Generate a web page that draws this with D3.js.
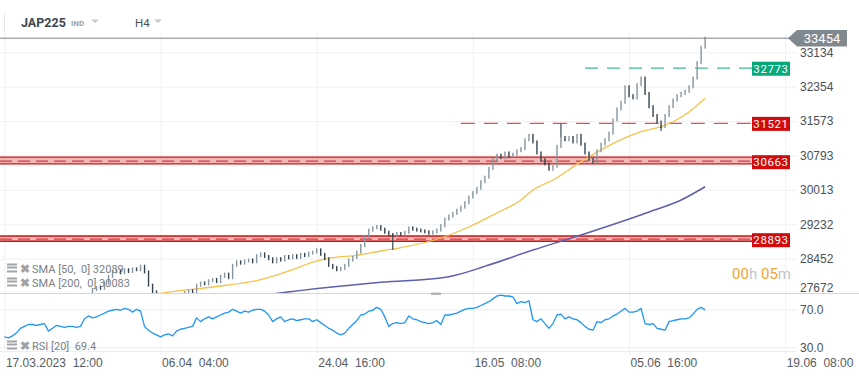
<!DOCTYPE html>
<html>
<head>
<meta charset="utf-8">
<script src="https://cdn.jsdelivr.net/npm/d3@7"></script>
<style>
  body { margin: 0; background: #fff; }
  svg { display: block; font-family: Roboto, "Noto Sans", sans-serif; }
  .tick text { white-space: pre; }
</style>
</head>
<body>
<div id="chart"></div>
<script>
// x axis: bar index of each tick and its label
const xTickIdx = [0, 39, 78, 117, 156, 195];
const xTickLabels = ["17.03.2023  12:00", "06.04  04:00", "24.04  16:00", "16.05  08:00", "05.06  16:00", "19.06  08:00"];
const priceTicks = [33134, 32354, 31573, 30793, 30013, 29232, 28452, 27672];
const rsiTicks = [70, 30];

// H4 closes, one per bar
const barClose = [
  27150,27100,27180,27250,27300,27280,27350,27400,27380,27420,27400,27350,27420,27450,27430,27470,27460,27480,27500,27480,27550,
  27620,27750,27800,27780,27900,28050,28150,28180,28130,28200,28160,28220,28200,28280,28150,27850,27700,27550,27450,27400,
  27450,27500,27560,27600,27680,27720,27700,27850,27900,27880,27950,27980,27930,28050,28100,28020,28300,28380,28350,28400,
  28420,28380,28520,28560,28500,28450,28380,28450,28420,28500,28470,28520,28480,28550,28520,28580,28600,28650,28550,28450,
  28300,28250,28200,28230,28300,28420,28480,28600,28750,28950,29100,29150,29180,29120,29050,29000,28980,29020,29000,29050,
  29150,29120,29100,29080,29060,29030,29060,29100,29200,29350,29420,29480,29550,29620,29720,29850,29950,30050,30200,30300,
  30500,30700,30800,30750,30850,30780,30820,30900,30950,31150,31250,31100,30850,30700,30600,30480,30550,31000,31200,31150,
  31200,31100,31250,31050,30850,30700,30650,30900,31050,31150,31300,31600,31850,32000,32350,32150,32100,32400,32550,32200,
  31900,31700,31550,31450,31700,31900,32050,32150,32200,32250,32350,32550,32900,33250,33454
];
// long wicks
const spikeIdx = [97, 139, 164];
const spikePrice = [28650, 31521, 31350];

// RSI [20], one per bar
const rsiValues = [
  41,40,42,45,50,52,54,54,53,54,55,47,50,53,52,51,52,52,51,52,60,
  63,61,62,64,66,68,69,70,69,71,70,67,70,68,52,48,45,43,41,43,
  44,42,47,49,50,51,52,61,57,60,62,60,62,64,66,67,70,68,66,68,
  67,69,70,70,68,64,57,60,62,57,59,60,58,59,60,60,57,59,56,53,
  50,48,45,43,45,50,54,58,64,65,68,69,72,70,62,52,55,56,55,56,
  63,60,59,57,56,55,56,58,54,64,64,65,66,68,70,71,71,72,74,76,
  78,81,84,85,84,84,83,76,78,77,79,59,57,60,55,50,55,64,65,60,
  62,60,59,56,52,49,48,57,56,59,60,63,65,68,71,67,67,68,71,55,
  54,55,50,49,48,57,58,59,60,60,61,65,70,72,69.4
];

const sma50Idx = [36, 41, 52, 64, 72, 77, 82, 88, 94, 99, 109, 116, 123, 129, 132, 137, 144, 155, 159, 164, 171, 175];
const sma50Val = [27620, 27690, 27808, 27976, 28203, 28375, 28475, 28527, 28625, 28700, 28920, 29170, 29488, 29783, 30010, 30236, 30652, 31190, 31332, 31446, 31780, 32089];
const sma200Idx = [66, 80, 94, 111, 121, 132, 144, 161, 169, 175];
const sma200Val = [27640, 27790, 27915, 28043, 28307, 28647, 28988, 29510, 29782, 30083];

const lastPrice = 33454;
const targetLevel = 32773;
const targetStartIdx = 145;
const supportLevel = 31521;
const supportStartIdx = 114;
const zoneLevel = [30663, 28893];
const zoneTop = [30755, 28966];
const zoneBottom = [30603, 28846];

const legendNames = ["SMA [50,  0] 32089", "SMA [200,  0] 30083"];
const rsiLegend = "RSI [20]  69.4";

function drawChart() {
  const W = 859, H = 378;
  const axisX = 797;
  const paneTop = 30, paneBottom = 293;
  const rsiBottom = 351;
  const labelX = 752, labelW = 38;

  const svg = d3.select("#chart").append("svg")
    .attr("width", W)
    .attr("height", H);

  const x = d3.scaleLinear().domain([0, 195]).range([4.4, 785.2]);
  const y = d3.scaleLinear().domain([27672, 33134]).range([paneBottom, 52.3]);
  const yR = d3.scaleLinear().domain([30, 70]).range([347.3, 309.3]);

  // clip paths
  const defs = svg.append("defs");
  defs.append("clipPath").attr("id", "mainClip")
    .append("rect").attr("x", 0).attr("y", paneTop).attr("width", 785).attr("height", paneBottom - paneTop);
  defs.append("clipPath").attr("id", "rsiClip")
    .append("rect").attr("x", 0).attr("y", paneBottom + 1).attr("width", 785).attr("height", rsiBottom - paneBottom);

  // header
  svg.append("line").attr("x1", 4.5).attr("x2", 4.5).attr("y1", 12).attr("y2", 33)
    .attr("stroke", "#e6e8ea");
  svg.append("text").attr("x", 21).attr("y", 27)
    .attr("font-size", 12.5).attr("font-weight", "bold").attr("fill", "#3b4650").text("JAP225");
  svg.append("text").attr("x", 71).attr("y", 26)
    .attr("font-size", 8).attr("font-weight", "bold").attr("fill", "#9aa4ab").text("IND");
  svg.append("text").attr("x", 135).attr("y", 27)
    .attr("font-size", 11.5).attr("fill", "#4a545c").text("H4");
  [[91, 99], [154, 162]].forEach(function(p) {
    svg.append("path")
      .attr("d", "M" + p[0] + ",19.5 L" + p[1] + ",19.5 L" + ((p[0] + p[1]) / 2) + ",23 Z")
      .attr("fill", "#c4c9cd");
  });

  // x axis + vertical grid
  const xAxis = d3.axisBottom(x)
    .tickValues(xTickIdx)
    .tickFormat(function(d, i) { return xTickLabels[i]; })
    .tickSize(-322)
    .tickPadding(3);
  const gx = svg.append("g").attr("transform", "translate(0,355)").call(xAxis);
  gx.select(".domain").remove();
  gx.selectAll("line").attr("stroke", "#eef0f2");
  gx.selectAll("text")
    .attr("text-anchor", "start").attr("dx", 1)
    .attr("font-size", 12).attr("fill", "#555c63");

  // price axis + horizontal grid
  const yAxis = d3.axisRight(y)
    .tickValues(priceTicks)
    .tickFormat(d3.format("d"))
    .tickSize(-axisX)
    .tickPadding(3);
  const gy = svg.append("g").attr("transform", "translate(" + axisX + ",0)").call(yAxis);
  gy.select(".domain").remove();
  gy.selectAll("line").attr("stroke", "#eef0f2");
  gy.selectAll("text").attr("font-size", 12).attr("fill", "#4a5158");
  gy.selectAll(".tick").filter(function(d) { return d === 27672; })
    .select("text").attr("y", -5);

  // rsi axis
  const rAxis = d3.axisRight(yR)
    .tickValues(rsiTicks)
    .tickFormat(d3.format(".1f"))
    .tickSize(-axisX)
    .tickPadding(3);
  const gr = svg.append("g").attr("transform", "translate(" + axisX + ",0)").call(rAxis);
  gr.select(".domain").remove();
  gr.selectAll("line").attr("stroke", "#eceef0");
  gr.selectAll("text").attr("font-size", 12).attr("fill", "#4a5158");
  svg.append("line").attr("x1", 0).attr("x2", axisX).attr("y1", rsiBottom + 0.5).attr("y2", rsiBottom + 0.5)
    .attr("stroke", "#eceef0");

  // pane separator
  svg.append("line").attr("x1", 0).attr("x2", W).attr("y1", paneBottom + 0.5).attr("y2", paneBottom + 0.5)
    .attr("stroke", "#d4d7da");
  svg.append("rect").attr("x", 431).attr("y", 292.5).attr("width", 10).attr("height", 2.5)
    .attr("fill", "#b3b7ba");

  const main = svg.append("g").attr("clip-path", "url(#mainClip)");

  // zones
  zoneLevel.forEach(function(lv, k) {
    main.append("rect")
      .attr("x", 0).attr("width", labelX)
      .attr("y", y(zoneTop[k])).attr("height", y(zoneBottom[k]) - y(zoneTop[k]))
      .attr("fill", "#f3b6b6");
    [zoneTop[k], zoneBottom[k]].forEach(function(b) {
      main.append("line").attr("x1", 0).attr("x2", labelX)
        .attr("y1", y(b)).attr("y2", y(b))
        .attr("stroke", "#d30f0f").attr("stroke-width", 1.3);
    });
    main.append("line").attr("x1", 0).attr("x2", labelX)
      .attr("y1", y(lv)).attr("y2", y(lv))
      .attr("stroke", "#d83a3a").attr("stroke-width", 1.2)
      .attr("stroke-dasharray", "12,6");
  });

  // support line
  main.append("line")
    .attr("x1", x(supportStartIdx)).attr("x2", labelX)
    .attr("y1", y(supportLevel)).attr("y2", y(supportLevel))
    .attr("stroke", "#e05050").attr("stroke-width", 1.3)
    .attr("stroke-dasharray", "14,9");

  // target line
  main.append("line")
    .attr("x1", x(targetStartIdx)).attr("x2", labelX)
    .attr("y1", y(targetLevel)).attr("y2", y(targetLevel))
    .attr("stroke", "#3dbb94").attr("stroke-width", 1.3)
    .attr("stroke-dasharray", "13,9");

  // moving averages
  const sma50 = sma50Idx.map(function(d, i) { return [d, sma50Val[i]]; });
  const sma200 = sma200Idx.map(function(d, i) { return [d, sma200Val[i]]; });
  const line = d3.line()
    .x(function(d) { return x(d[0]); })
    .y(function(d) { return y(d[1]); })
    .curve(d3.curveMonotoneX);
  main.append("path").datum(sma200).attr("d", line)
    .attr("fill", "none").attr("stroke", "#5e5fae").attr("stroke-width", 1.5);
  main.append("path").datum(sma50).attr("d", line)
    .attr("fill", "none").attr("stroke", "#f8c14a").attr("stroke-width", 1.3);

  // bars
  const bars = barClose.map(function(c, i) {
    return { i: i, o: i > 0 ? barClose[i - 1] : c, c: c };
  });
  main.selectAll("line.spike")
    .data(spikeIdx)
    .enter().append("line")
    .attr("class", "spike")
    .attr("x1", function(d) { return x(d); })
    .attr("x2", function(d) { return x(d); })
    .attr("y1", function(d) { return y(barClose[d]); })
    .attr("y2", function(d, k) { return y(spikePrice[k]); })
    .attr("stroke", "#3a4853").attr("stroke-width", 1.2);
  main.selectAll("rect.bar")
    .data(bars)
    .enter().append("rect")
    .attr("class", "bar")
    .attr("x", function(d) { return x(d.i) - 0.7; })
    .attr("width", 1.4)
    .attr("y", function(d) { return Math.min(y(d.o), y(d.c)) - 1.5; })
    .attr("height", function(d) { return Math.abs(y(d.o) - y(d.c)) + 3; })
    .attr("fill", function(d) { return d.c >= d.o ? "#8796a0" : "#36444f"; });

  // last price line
  svg.append("line")
    .attr("x1", 0).attr("x2", 790)
    .attr("y1", y(lastPrice)).attr("y2", y(lastPrice))
    .attr("stroke", "#7b858c").attr("stroke-width", 1);
  const ly = y(lastPrice);
  svg.append("path")
    .attr("d", "M788," + ly + " L797," + (ly - 8.2) + " L847," + (ly - 8.2) + " L847," + (ly + 8.4) + " L797," + (ly + 8.4) + " Z")
    .attr("fill", "#7f898f");
  svg.append("text").attr("x", 822).attr("y", ly + 4.5)
    .attr("text-anchor", "middle").attr("font-size", 13).attr("fill", "#fff")
    .text(lastPrice);

  // level labels
  function levelLabel(v, color, dyc) {
    const cy = y(v) + dyc;
    svg.append("rect").attr("x", labelX).attr("y", cy - 7).attr("width", labelW).attr("height", 14)
      .attr("fill", color);
    svg.append("text").attr("x", labelX + labelW / 2).attr("y", cy + 4)
      .attr("text-anchor", "middle").attr("font-size", 11.5).attr("letter-spacing", 0.6)
      .attr("fill", "#fff").text(v);
  }
  levelLabel(targetLevel, "#07a87a", 0.5);
  levelLabel(supportLevel, "#d10b0b", 0.5);
  zoneLevel.forEach(function(lv) { levelLabel(lv, "#d10b0b", 1); });

  // rsi line
  const rsiLine = d3.line()
    .x(function(d, i) { return x(i); })
    .y(function(d) { return yR(d); });
  svg.append("g").attr("clip-path", "url(#rsiClip)")
    .append("path").datum(rsiValues).attr("d", rsiLine)
    .attr("fill", "none").attr("stroke", "#2196f3").attr("stroke-width", 1.3)
    .attr("stroke-linejoin", "round");

  // legends
  function legendItem(ly, label) {
    const g = svg.append("g").attr("transform", "translate(7," + ly + ")");
    g.append("rect").attr("x", 0).attr("y", -5).attr("width", 10).attr("height", 2).attr("fill", "#a0a4a8");
    g.append("rect").attr("x", 0).attr("y", -2).attr("width", 10).attr("height", 2).attr("fill", "#a0a4a8");
    g.append("rect").attr("x", 0).attr("y", 2).attr("width", 10).attr("height", 2).attr("fill", "#a0a4a8");
    g.append("text").attr("x", 13).attr("y", 4).attr("font-size", 11.5).attr("font-weight", "bold")
      .attr("fill", "#a0a4a8").text("✖");
    g.append("text").attr("x", 25).attr("y", 4).attr("font-size", 11)
      .attr("fill", "#7b8085").style("white-space", "pre").text(label);
  }
  legendItem(268.5, legendNames[0]);
  legendItem(282.5, legendNames[1]);
  legendItem(345.5, rsiLegend);

  // countdown
  const cd = svg.append("text").attr("x", 791).attr("y", 278.5)
    .attr("text-anchor", "end").attr("font-size", 15);
  cd.append("tspan").attr("fill", "#f6a330").text("00");
  cd.append("tspan").attr("fill", "#c2c6c9").text("h ");
  cd.append("tspan").attr("fill", "#f6a330").text("05");
  cd.append("tspan").attr("fill", "#c2c6c9").text("m");
}

window.onload = function() {
  drawChart();
};
</script>
</body>
</html>
